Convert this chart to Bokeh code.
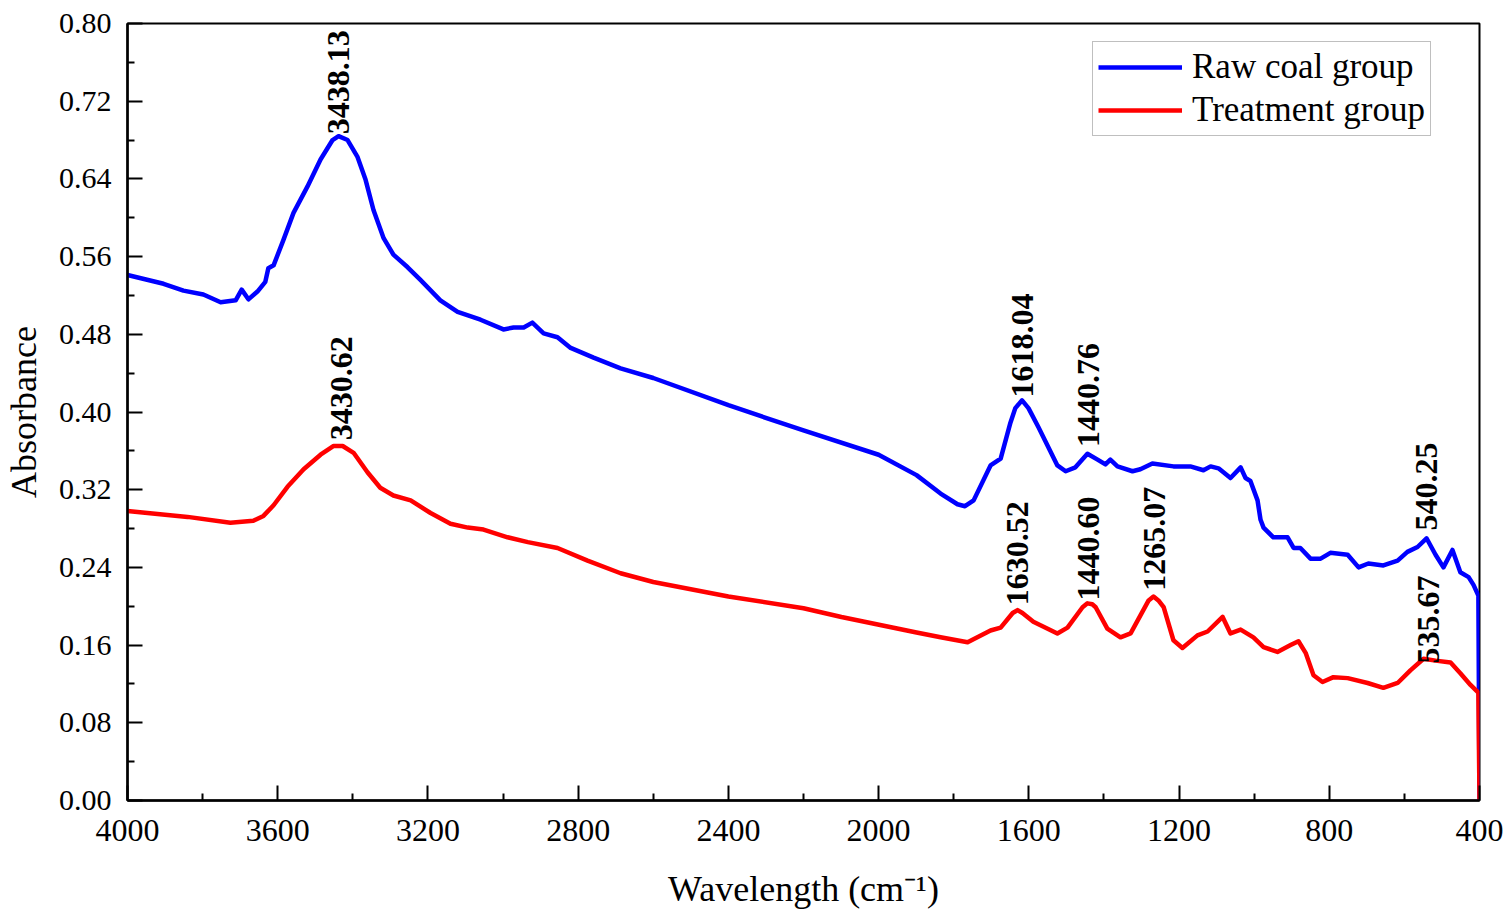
import math
from bokeh.plotting import figure
from bokeh.models import Range1d, FixedTicker, PrintfTickFormatter, Legend, LegendItem, ColumnDataSource
from bokeh.core.properties import value
from bokeh.embed import file_html
from bokeh.resources import INLINE

# ---------------- data ----------------
raw_wn = [4000, 3904, 3851, 3798, 3752, 3712, 3696, 3678, 3654, 3633, 3625, 3611,
          3585, 3558, 3521, 3486, 3454, 3438, 3414, 3388, 3366, 3345, 3318, 3292,
          3254, 3220, 3167, 3121, 3060, 2999, 2972, 2945, 2922, 2892, 2855, 2820,
          2759, 2687, 2600, 2400, 2200, 2000, 1899, 1835, 1790, 1770, 1747, 1702,
          1675, 1649, 1636, 1618, 1601, 1574, 1524, 1502, 1476, 1444, 1417, 1396,
          1383, 1364, 1324, 1303, 1271, 1215, 1170, 1135, 1116, 1095, 1063, 1036,
          1023, 1010, 991, 983, 975, 949, 922, 911, 895, 877, 850, 823, 797, 751,
          722, 696, 656, 618, 592, 565, 541, 517, 496, 472, 451, 429, 416, 403, 400]
raw_abs = [0.541, 0.532, 0.525, 0.521, 0.513, 0.515, 0.526, 0.516, 0.524, 0.534, 0.548, 0.551,
           0.577, 0.605, 0.632, 0.660, 0.680, 0.684, 0.680, 0.663, 0.639, 0.608, 0.579, 0.562,
           0.549, 0.536, 0.515, 0.503, 0.495, 0.485, 0.487, 0.487, 0.492, 0.481, 0.477, 0.466,
           0.456, 0.445, 0.435, 0.407, 0.381, 0.356, 0.335, 0.316, 0.305, 0.303, 0.309, 0.345,
           0.352, 0.389, 0.404, 0.412, 0.404, 0.384, 0.345, 0.339, 0.343, 0.357, 0.351, 0.346,
           0.351, 0.344, 0.339, 0.341, 0.347, 0.344, 0.344, 0.340, 0.344, 0.342, 0.332, 0.343,
           0.332, 0.329, 0.309, 0.289, 0.281, 0.271, 0.271, 0.271, 0.260, 0.260, 0.249, 0.249, 0.255, 0.253,
           0.240, 0.244, 0.242, 0.247, 0.256, 0.261, 0.270, 0.253, 0.240, 0.258, 0.235, 0.230, 0.222, 0.211, 0.0]

trt_wn = [4000, 3840, 3726, 3665, 3638, 3611, 3574, 3531, 3486, 3451, 3427, 3398,
          3361, 3327, 3292, 3246, 3193, 3140, 3094, 3052, 2988, 2934, 2855, 2775,
          2687, 2600, 2400, 2200, 2099, 1899, 1835, 1763, 1702, 1675, 1643, 1630,
          1617, 1588, 1524, 1497, 1457, 1444, 1431, 1422, 1391, 1356, 1329, 1281,
          1268, 1255, 1241, 1215, 1191, 1151, 1124, 1084, 1063, 1036, 1002, 975,
          938, 903, 882, 863, 842, 818, 789, 751, 698, 656, 618, 584, 549, 517,
          477, 451, 424, 403, 400]
trt_abs = [0.298, 0.292, 0.286, 0.288, 0.293, 0.304, 0.323, 0.341, 0.356, 0.365, 0.365, 0.358,
           0.338, 0.322, 0.314, 0.309, 0.296, 0.285, 0.281, 0.279, 0.271, 0.266, 0.260, 0.247,
           0.234, 0.225, 0.210, 0.198, 0.189, 0.173, 0.168, 0.163, 0.175, 0.178, 0.193, 0.196,
           0.193, 0.184, 0.172, 0.178, 0.199, 0.203, 0.202, 0.199, 0.177, 0.168, 0.172, 0.206,
           0.210, 0.206, 0.199, 0.165, 0.157, 0.170, 0.174, 0.189, 0.172, 0.176, 0.168, 0.158,
           0.153, 0.160, 0.164, 0.152, 0.129, 0.122, 0.127, 0.126, 0.121, 0.116, 0.121, 0.134, 0.146, 0.144,
           0.142, 0.131, 0.119, 0.111, 0.0]

peak_labels = ["3438.13", "3430.62", "1618.04", "1440.76", "1630.52", "1440.60", "1265.07", "540.25", "535.67"]
peak_label_abs = [0.686, 0.371, 0.415, 0.364, 0.201, 0.206, 0.216, 0.278, 0.141]

x_ticks = [4000, 3600, 3200, 2800, 2400, 2000, 1600, 1200, 800, 400]
x_minor = [3800, 3400, 3000, 2600, 2200, 1800, 1400, 1000, 600]
y_ticks = [0.00, 0.08, 0.16, 0.24, 0.32, 0.40, 0.48, 0.56, 0.64, 0.72, 0.80]
y_minor = [0.04, 0.12, 0.20, 0.28, 0.36, 0.44, 0.52, 0.60, 0.68, 0.76]

series_names = ["Raw coal group", "Treatment group"]
series_colors = ["#0000FF", "#FF0000"]

# ---------------- figure ----------------
FONT = "Liberation Serif"
p = figure(width=1505, height=924, output_backend="svg", toolbar_location=None,
           x_range=Range1d(4000, 400), y_range=Range1d(0, 0.8),
           min_border_left=126, min_border_right=26, min_border_top=23, min_border_bottom=124)
p.xgrid.visible = False
p.ygrid.visible = False
p.outline_line_color = "black"
p.outline_line_width = 2
p.background_fill_color = "white"
p.border_fill_color = "white"

p.xaxis.ticker = FixedTicker(ticks=x_ticks, minor_ticks=x_minor)
p.yaxis.ticker = FixedTicker(ticks=y_ticks, minor_ticks=y_minor)
p.yaxis.formatter = PrintfTickFormatter(format="%.2f")
p.xaxis.formatter = PrintfTickFormatter(format="%d")

for ax in (p.xaxis[0], p.yaxis[0]):
    ax.axis_line_width = 2.5
    ax.axis_line_color = "black"
    ax.major_tick_in = 15
    ax.major_tick_out = 0
    ax.minor_tick_in = 7
    ax.minor_tick_out = 0
    ax.major_tick_line_width = 2
    ax.minor_tick_line_width = 2
    ax.major_tick_line_color = "black"
    ax.minor_tick_line_color = "black"
    ax.major_label_text_font = FONT
    ax.major_label_text_color = "black"
    ax.axis_label_text_font = FONT
    ax.axis_label_text_font_style = "normal"
    ax.axis_label_text_font_size = "36px"
    ax.axis_label_text_color = "black"

p.xaxis.major_label_text_font_size = "32px"
p.yaxis.major_label_text_font_size = "30px"
p.xaxis.major_label_standoff = 19
p.yaxis.major_label_standoff = 16
p.xaxis.axis_label = "Wavelength (cm\u207B\u00B9)"
p.yaxis.axis_label = "Absorbance"
p.xaxis.axis_label_standoff = 25
p.yaxis.axis_label_standoff = 12

raw_src = ColumnDataSource(dict(x=raw_wn, y=raw_abs))
trt_src = ColumnDataSource(dict(x=trt_wn, y=trt_abs))
r_raw = p.line("x", "y", source=raw_src, line_color=series_colors[0], line_width=4.5, line_join="round")
r_trt = p.line("x", "y", source=trt_src, line_color=series_colors[1], line_width=4.5, line_join="round")

lab_src = ColumnDataSource(dict(x=[float(t) for t in peak_labels], y=peak_label_abs, text=peak_labels))
p.text("x", "y", text="text", source=lab_src, angle=math.pi / 2,
       text_align="left", text_baseline="middle",
       text_font=value(FONT), text_font_style="bold", text_font_size="32px", text_color="black")

legend = Legend(items=[LegendItem(label=series_names[0], renderers=[r_raw]),
                       LegendItem(label=series_names[1], renderers=[r_trt])],
                location=(965, 664))
legend.label_text_font = FONT
legend.label_text_font_size = "35px"
legend.label_text_color = "black"
legend.glyph_width = 84
legend.glyph_height = 40
legend.label_height = 40
legend.label_standoff = 10
legend.spacing = 3
legend.padding = 5
legend.margin = 0
legend.border_line_color = "#7f7f7f"
legend.border_line_width = 1
legend.background_fill_color = "white"
legend.background_fill_alpha = 1.0
p.add_layout(legend, "center")

open("out.html", "w").write(file_html(p, INLINE))
